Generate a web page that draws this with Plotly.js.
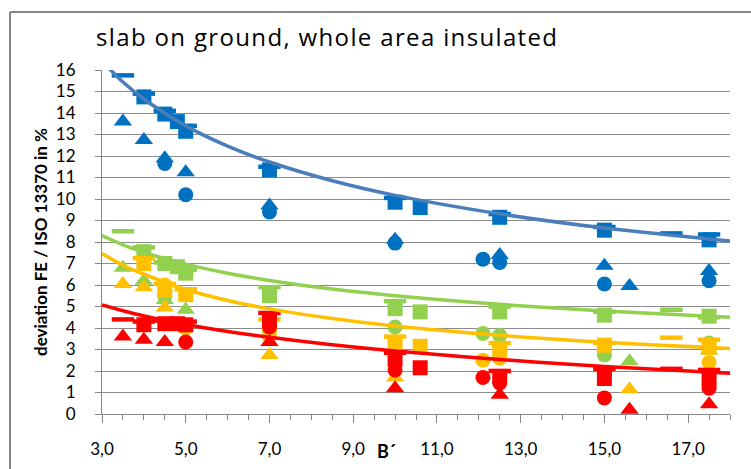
<!DOCTYPE html>
<html><head><meta charset="utf-8">
<script src="https://cdn.plot.ly/plotly-3.0.1.min.js"></script>
<style>html,body{margin:0;padding:0;background:#fff}#chart{width:751px;height:469px}
.gtitle{letter-spacing:1.35px}</style>
</head><body><div id="chart"></div>
<script>
// ---- data (B' vs deviation in %) ----
const blueSquareX = [4.0, 4.5, 4.8, 5.0, 7.0, 10.0, 10.6, 12.5, 15.0, 17.5];
const blueSquareY = [14.75, 13.95, 13.6, 13.15, 11.35, 9.85, 9.6, 9.15, 8.55, 8.1];
const blueDashX = [3.5, 4.0, 4.5, 5.0, 7.0, 10.0, 12.5, 15.0, 16.6, 17.5];
const blueDashY = [15.75, 14.9, 14.1, 13.4, 11.5, 10.05, 9.3, 8.7, 8.4, 8.35];
const blueTriX = [3.5, 4.0, 4.5, 5.0, 7.0, 10.0, 12.5, 15.0, 15.6, 17.5];
const blueTriY = [13.6, 12.75, 11.9, 11.25, 9.7, 8.1, 7.4, 6.9, 5.95, 6.65];
const blueCircX = [4.5, 5.0, 7.0, 10.0, 12.1, 12.5, 15.0, 17.5];
const blueCircY = [11.65, 10.2, 9.4, 7.95, 7.2, 7.05, 6.05, 6.2];

const greenSquareX = [4.0, 4.5, 4.8, 5.0, 7.0, 10.0, 10.6, 12.5, 15.0, 17.5];
const greenSquareY = [7.55, 7.0, 6.85, 6.55, 5.5, 4.9, 4.75, 4.75, 4.6, 4.55];
const greenDashX = [3.5, 4.0, 4.5, 5.0, 7.0, 10.0, 12.5, 15.0, 16.6, 17.5];
const greenDashY = [8.5, 7.75, 7.05, 6.7, 5.9, 5.25, 5.0, 4.75, 4.85, 4.5];
const greenTriX = [3.5, 4.0, 4.5, 5.0, 15.6, 17.5];
const greenTriY = [6.8, 6.2, 5.3, 4.85, 2.45, 2.95];
const greenCircX = [4.5, 7.0, 10.0, 12.1, 12.5, 15.0, 17.5];
const greenCircY = [5.5, 3.85, 4.05, 3.75, 3.65, 2.75, 3.3];

const yellowSquareX = [4.0, 4.5, 5.0, 7.0, 10.0, 10.6, 12.5, 15.0, 17.5];
const yellowSquareY = [7.0, 5.75, 5.55, 4.2, 3.3, 3.15, 2.95, 3.2, 3.1];
const yellowDashX = [4.0, 4.5, 5.0, 7.0, 10.0, 12.5, 15.0, 16.6, 17.5];
const yellowDashY = [7.25, 6.05, 5.8, 4.4, 3.6, 3.3, 3.3, 3.55, 3.45];
const yellowTriX = [3.5, 4.0, 4.5, 7.0, 10.0, 15.6];
const yellowTriY = [6.05, 5.9, 4.95, 2.75, 1.7, 1.15];
const yellowCircX = [4.5, 5.0, 7.0, 12.1, 12.5, 17.5];
const yellowCircY = [6.0, 4.0, 3.6, 2.5, 2.6, 2.4];

const redSquareX = [4.0, 4.5, 4.8, 5.0, 7.0, 10.0, 10.6, 12.5, 15.0, 17.5];
const redSquareY = [4.15, 4.2, 4.2, 4.15, 4.35, 2.55, 2.15, 1.75, 1.65, 1.6];
const redDashX = [3.5, 4.0, 4.5, 5.0, 7.0, 10.0, 12.5, 15.0, 16.6, 17.5];
const redDashY = [4.4, 4.3, 4.35, 4.3, 4.7, 2.85, 2.0, 2.1, 2.1, 2.05];
const redTriX = [3.5, 4.0, 4.5, 7.0, 10.0, 12.5, 15.6, 17.5];
const redTriY = [3.6, 3.45, 3.35, 3.35, 1.2, 0.9, 0.2, 0.45];
const redCircX = [5.0, 7.0, 10.0, 12.1, 12.5, 15.0, 17.5];
const redCircY = [3.35, 4.05, 2.05, 1.7, 1.45, 0.75, 1.2];

// trend lines
const trendX = [3.0, 3.5, 4.0, 5.0, 6.0, 7.0, 8.5, 10.0, 12.5, 15.0, 18.0];
const blueTrendY = [16.42, 15.44, 14.65, 13.4, 12.46, 11.72, 10.85, 10.17, 9.31, 8.65, 8.05];
const greenTrendY = [8.3, 7.87, 7.52, 6.97, 6.55, 6.21, 5.81, 5.5, 5.1, 4.79, 4.5];
const yellowTrendY = [7.47, 6.92, 6.5, 5.79, 5.28, 4.89, 4.44, 4.09, 3.66, 3.34, 3.05];
const redTrendY = [5.07, 4.8, 4.56, 4.16, 3.84, 3.57, 3.22, 2.93, 2.54, 2.21, 1.89];

const xTickVals = [3, 5, 7, 9, 11, 13, 15, 17];

// ---- styling ----
const C = {blue: '#0070C0', green: '#92D050', yellow: '#FFC000', red: '#FF0000'};
const TC = {blue: '#4A7EBB', green: '#92D050', yellow: '#FFC000', red: '#FF0000'};
const groups = [
  ['blue', blueCircX, blueCircY, blueTriX, blueTriY, blueSquareX, blueSquareY, blueDashX, blueDashY, blueTrendY],
  ['green', greenCircX, greenCircY, greenTriX, greenTriY, greenSquareX, greenSquareY, greenDashX, greenDashY, greenTrendY],
  ['yellow', yellowCircX, yellowCircY, yellowTriX, yellowTriY, yellowSquareX, yellowSquareY, yellowDashX, yellowDashY, yellowTrendY],
  ['red', redCircX, redCircY, redTriX, redTriY, redSquareX, redSquareY, redDashX, redDashY, redTrendY]
];
const traces = [];
groups.forEach(g => {
  const col = C[g[0]];
  traces.push({x: g[1], y: g[2], type: 'scatter', mode: 'markers', name: g[0] + ' circle',
    marker: {symbol: 'circle', size: 15, color: col, line: {width: 0}}});
  traces.push({x: g[3], y: g[4], type: 'scatter', mode: 'markers', name: g[0] + ' triangle',
    marker: {symbol: 'triangle-up', size: 16, color: col, line: {width: 0}}});
  traces.push({x: g[5], y: g[6], type: 'scatter', mode: 'markers', name: g[0] + ' square',
    marker: {symbol: 'square', size: 15, color: col, line: {width: 0}}});
  traces.push({x: g[7], y: g[8], type: 'scatter', mode: 'markers', name: g[0] + ' dash',
    marker: {symbol: 'line-ew', size: 16, color: col, line: {width: 4.5, color: col}}});
});
groups.forEach(g => {
  traces.push({x: trendX, y: g[9], type: 'scatter', mode: 'lines', name: g[0] + ' trend',
    line: {color: TC[g[0]], width: 3.5, shape: 'spline', smoothing: 1.0}});
});

const FONT = 'Lato, "Open Sans", sans-serif';
const layout = {
  width: 751, height: 469,
  margin: {l: 102, r: 21, t: 70, b: 55},
  paper_bgcolor: '#ffffff', plot_bgcolor: '#ffffff',
  separators: ', ',
  showlegend: false,
  font: {family: FONT, color: '#000000', size: 17},
  title: {text: 'slab on ground, whole area insulated', font: {family: '"Open Sans", sans-serif', size: 24, color: '#000'},
    xref: 'container', x: 96 / 751, xanchor: 'left', yref: 'container', y: 1 - 38 / 469, yanchor: 'middle'},
  xaxis: {range: [3, 18], tickvals: xTickVals, tickformat: '.1f', showgrid: false, zeroline: false,
    showline: true, linecolor: '#868686', linewidth: 1, ticks: 'outside', ticklen: 8, tickcolor: '#868686',
    ticklabelstandoff: 12, tickfont: {family: FONT, size: 17, color: '#000'},
    minor: {dtick: 0.5, tick0: 3, ticks: 'outside', ticklen: 5, tickcolor: '#868686', showgrid: false}},
  yaxis: {range: [0, 16], dtick: 1, tick0: 0, showgrid: true, gridcolor: '#8c8c8c', gridwidth: 1, zeroline: false,
    showline: true, linecolor: '#868686', linewidth: 1, ticks: 'outside', ticklen: 6, tickcolor: '#868686',
    ticklabelstandoff: 16, tickfont: {family: FONT, size: 17, color: '#000'}},
  annotations: [
    {text: '<b>deviation FE / ISO 13370 in %</b>', xref: 'paper', yref: 'paper', x: (40 - 102) / 628, y: 0.5,
      xanchor: 'center', yanchor: 'middle', textangle: -90, showarrow: false, font: {family: FONT, size: 17, color: '#000'}},
    {text: '<b>B´</b>', xref: 'paper', yref: 'paper', x: (386 - 102) / 628, y: -(451 - 414) / 344,
      xanchor: 'center', yanchor: 'middle', showarrow: false, font: {family: FONT, size: 18, color: '#000'}}
  ],
  shapes: [
    {type: 'line', xref: 'paper', yref: 'paper', x0: (10 - 102) / 628, x1: 1.2, y0: 1 + (70 - 12) / 344, y1: 1 + (70 - 12) / 344,
      line: {color: '#868686', width: 2}, layer: 'above'},
    {type: 'line', xref: 'paper', yref: 'paper', x0: (10 - 102) / 628, x1: (10 - 102) / 628, y0: -0.3, y1: 1 + (70 - 12) / 344,
      line: {color: '#868686', width: 2}, layer: 'above'}
  ]
};
Plotly.newPlot('chart', traces, layout, {displayModeBar: false, staticPlot: true});
</script></body></html>
